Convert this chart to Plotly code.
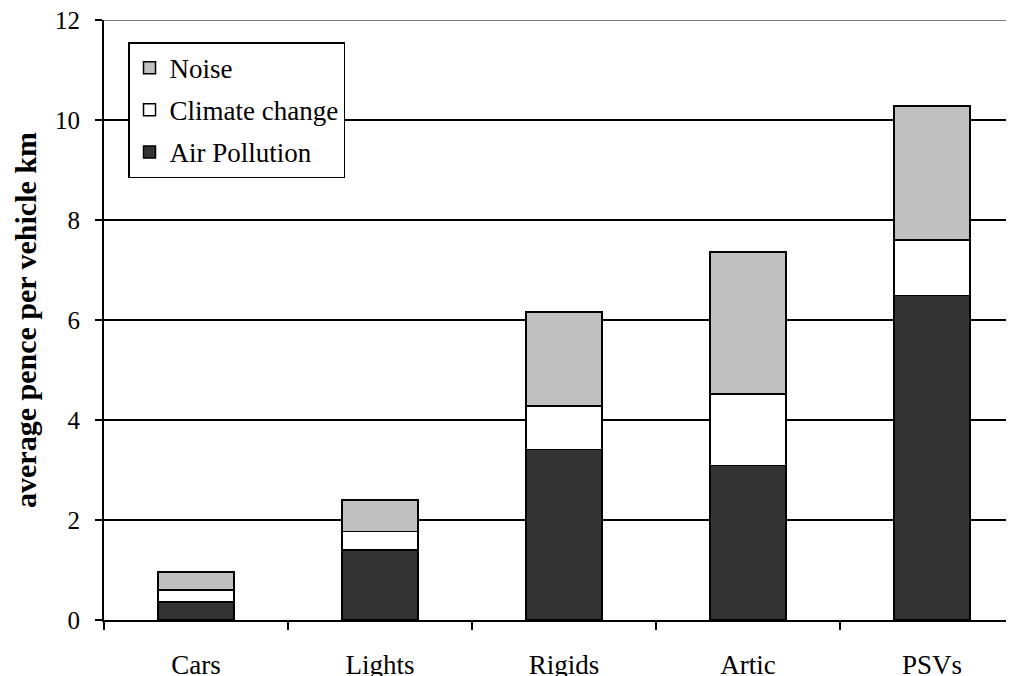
import plotly.graph_objects as go

categories = ["Cars", "Lights", "Rigids", "Artic", "PSVs"]
air_pollution = [0.36, 1.40, 3.41, 3.09, 6.49]
climate_change = [0.24, 0.37, 0.87, 1.43, 1.11]
noise = [0.36, 0.63, 1.88, 2.84, 2.68]
y_ticks = [0, 2, 4, 6, 8, 10, 12]

font_family = "Liberation Serif"
line_style = dict(color="black", width=1.5)

fig = go.Figure()
fig.add_trace(go.Bar(name="Air Pollution", x=categories, y=air_pollution,
                     marker=dict(color="#333333", line=line_style),
                     width=0.413, legendgroup="a", legendrank=3))
fig.add_trace(go.Bar(name="Climate change", x=categories, y=climate_change,
                     marker=dict(color="#FFFFFF", line=line_style),
                     width=0.413, legendgroup="b", legendrank=2))
fig.add_trace(go.Bar(name="Noise", x=categories, y=noise,
                     marker=dict(color="#C0C0C0", line=line_style),
                     width=0.413, legendgroup="c", legendrank=1))

fig.update_layout(
    barmode="stack",
    width=1006, height=668,
    margin=dict(l=96, r=0, t=12, b=56, autoexpand=False),
    paper_bgcolor="white", plot_bgcolor="white",
    font=dict(family=font_family, color="black", size=26),
    showlegend=True,
    legend=dict(
        x=0.0264, y=0.963, xanchor="left", yanchor="top",
        traceorder="grouped", tracegroupgap=4,
        bgcolor="white", bordercolor="black", borderwidth=1.5,
        font=dict(family=font_family, size=27, color="black"),
        itemwidth=30,
    ),
    xaxis=dict(
        type="category", range=[-0.5, 4.446],
        showline=True, linecolor="black", linewidth=2,
        ticks="outside", tickson="boundaries", ticklen=8, tickwidth=1.5,
        tickcolor="black", ticklabelstandoff=20,
        tickfont=dict(family=font_family, size=27),
        showgrid=False, zeroline=False,
    ),
    yaxis=dict(
        range=[0, 12.002], tickvals=y_ticks,
        showline=True, linecolor="black", linewidth=2,
        ticks="outside", ticklen=7, tickwidth=1.5, tickcolor="black",
        ticklabelstandoff=10, ticklabeloverflow="allow",
        tickfont=dict(family=font_family, size=25),
        showgrid=True, gridcolor="black", gridwidth=1.5,
        zeroline=False,
        title=dict(text="<b>average pence per vehicle km</b>",
                   font=dict(family=font_family, size=30), standoff=10),
    ),
    shapes=[dict(type="line", xref="paper", yref="y", x0=0, x1=1, y0=12, y1=12,
                 line=dict(color="#808080", width=2), layer="above")],
)

fig.write_html("out.html")
